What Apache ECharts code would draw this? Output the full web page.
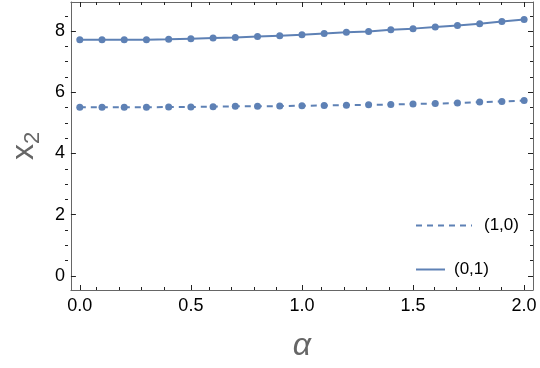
<!DOCTYPE html>
<html>
<head>
<meta charset="utf-8">
<script src="https://cdn.jsdelivr.net/npm/echarts@6/dist/echarts.min.js"></script>
<style>
  html, body { margin: 0; padding: 0; background: #fff; }
  #chart { width: 540px; height: 368px; }
</style>
</head>
<body>
<div id="chart"></div>
<script>
const alphas = [0.0, 0.1, 0.2, 0.3, 0.4, 0.5, 0.6, 0.7, 0.8, 0.9, 1.0,
                1.1, 1.2, 1.3, 1.4, 1.5, 1.6, 1.7, 1.8, 1.9, 2.0]
// (1,0) dashed
const x2Case10 = [5.51, 5.51, 5.51, 5.51, 5.52, 5.52, 5.53, 5.54, 5.54, 5.55, 5.56,
                  5.57, 5.58, 5.59, 5.60, 5.62, 5.63, 5.65, 5.68, 5.70, 5.73]
// (0,1) solid
const x2Case01 = [7.72, 7.72, 7.72, 7.72, 7.73, 7.75, 7.77, 7.79, 7.82, 7.85, 7.88,
                  7.92, 7.96, 7.99, 8.04, 8.08, 8.13, 8.18, 8.24, 8.31, 8.38]

const xMajor = [0, 0.5, 1, 1.5, 2]
const xMinor = [0.1, 0.2, 0.3, 0.4, 0.6, 0.7, 0.8, 0.9, 1.1, 1.2, 1.3, 1.4, 1.6, 1.7, 1.8, 1.9]
const yMajor = [0, 2, 4, 6, 8]
const yMinor = [0.5, 1, 1.5, 2.5, 3, 3.5, 4.5, 5, 5.5, 6.5, 7, 7.5, 8.5]

const blue = '#5e81b5'
const frame = '#666'
const font = 'Liberation Sans, Arial, sans-serif'
const xRange = { min: -0.04, max: 2.04 }
const yRange = { min: -0.46, max: 8.95 }

function frameAxis(gridIndex, position, ticks, len, range, showLine) {
  return {
    type: 'value',
    gridIndex,
    position,
    min: range.min,
    max: range.max,
    axisLine: { show: showLine, onZero: false, lineStyle: { color: frame, width: 1 } },
    axisTick: { show: true, inside: true, length: len, customValues: ticks, lineStyle: { color: '#222' } },
    axisLabel: { show: false },
    splitLine: { show: false }
  }
}

const bottomAxis = frameAxis(0, 'bottom', xMajor, 5, xRange, true)
bottomAxis.axisLabel = {
  show: true, customValues: xMajor, margin: 7,
  formatter: v => v.toFixed(1),
  color: '#000', fontSize: 18, fontFamily: font
}
bottomAxis.name = 'α'
bottomAxis.nameLocation = 'middle'
bottomAxis.nameGap = 40
bottomAxis.nameTextStyle = { color: '#666', fontSize: 32, fontStyle: 'italic', fontFamily: font }

const leftAxis = frameAxis(0, 'left', yMajor, 5, yRange, true)
leftAxis.axisLabel = {
  show: true, customValues: yMajor, margin: 6,
  formatter: v => String(v),
  color: '#000', fontSize: 18, fontFamily: font
}
leftAxis.name = '{x|x}{s|2}'
leftAxis.nameLocation = 'middle'
leftAxis.nameRotate = 90
leftAxis.nameGap = 23
leftAxis.nameTextStyle = {
  color: '#666',
  rich: {
    x: { fontSize: 32, lineHeight: 40, verticalAlign: 'middle', color: '#666', fontFamily: font },
    s: { fontSize: 22, lineHeight: 19, verticalAlign: 'bottom', color: '#666', fontFamily: font }
  }
}

const chart = echarts.init(document.getElementById('chart'))

chart.setOption({
  animation: false,
  grid: [
    { left: 65, right: 7, top: 2, bottom: 78, containLabel: false },
    { left: 65, right: 7, top: 2, bottom: 78, containLabel: false }
  ],
  xAxis: [
    bottomAxis,
    frameAxis(0, 'top', xMajor, 5, xRange, true),
    frameAxis(1, 'bottom', xMinor, 3, xRange, false),
    frameAxis(1, 'top', xMinor, 3, xRange, false)
  ],
  yAxis: [
    leftAxis,
    frameAxis(0, 'right', yMajor, 5, yRange, true),
    frameAxis(1, 'left', yMinor, 3, yRange, false),
    frameAxis(1, 'right', yMinor, 3, yRange, false)
  ],
  legend: [
    {
      data: ['(1,0)'], left: 415, top: 217, padding: 0,
      itemWidth: 56, itemHeight: 14, selectedMode: false,
      itemStyle: { opacity: 0 }, lineStyle: { width: 2 },
      textStyle: { color: '#000', fontSize: 17, fontFamily: font, padding: [0, 0, 0, 7] }
    },
    {
      data: ['(0,1)'], left: 415, top: 261, padding: 0,
      itemWidth: 29, itemHeight: 14, selectedMode: false,
      itemStyle: { opacity: 0 }, lineStyle: { width: 2 },
      textStyle: { color: '#000', fontSize: 17, fontFamily: font, padding: [0, 0, 0, 4] }
    }
  ],
  series: [
    {
      name: '(1,0)',
      type: 'line',
      xAxisIndex: 0,
      yAxisIndex: 0,
      data: alphas.map((a, i) => [a, x2Case10[i]]),
      symbol: 'circle',
      symbolSize: 7,
      itemStyle: { color: blue },
      lineStyle: { color: blue, width: 2, type: [6, 5] }
    },
    {
      name: '(0,1)',
      type: 'line',
      xAxisIndex: 0,
      yAxisIndex: 0,
      data: alphas.map((a, i) => [a, x2Case01[i]]),
      symbol: 'circle',
      symbolSize: 7,
      itemStyle: { color: blue },
      lineStyle: { color: blue, width: 2 }
    }
  ]
})
</script>
</body>
</html>
